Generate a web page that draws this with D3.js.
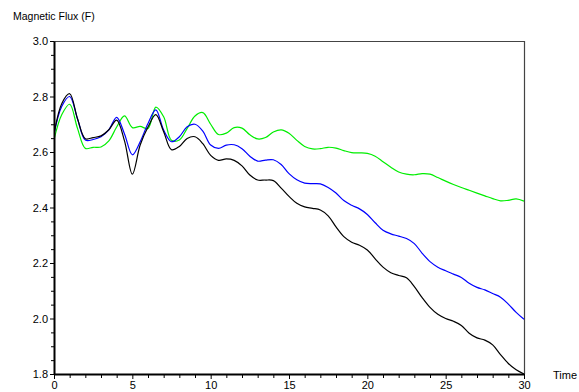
<!DOCTYPE html>
<html>
<head>
<meta charset="utf-8">
<script src="https://cdn.jsdelivr.net/npm/d3@7"></script>
<style>
  html, body { margin: 0; padding: 0; background: #fff; }
  svg { display: block; }
  text { font-family: "Liberation Sans", Arial, Helvetica, sans-serif; fill: #000; }
</style>
</head>
<body>
<svg id="chart" width="579" height="392"></svg>
<script>
// ---- data ----
const time = [0,0.5,1,1.5,2,2.5,3,3.5,4,4.5,5,5.5,6,6.5,7,7.5,8,8.5,9,9.5,
  10,10.5,11,11.5,12,12.5,13,13.5,14,14.5,15,15.5,16,16.5,17,17.5,18,18.5,19,19.5,
  20,20.5,21,21.5,22,22.5,23,23.5,24,24.5,25,25.5,26,26.5,27,27.5,28,28.5,29,29.5,30];

const fluxBlack = [2.665,2.775,2.81,2.72,2.648,2.652,2.658,2.68,2.715,2.64,2.52,2.625,2.69,2.735,2.673,2.608,2.62,2.649,2.655,2.63,
  2.588,2.57,2.575,2.57,2.55,2.517,2.499,2.499,2.497,2.47,2.44,2.415,2.402,2.397,2.391,2.37,2.33,2.295,2.275,2.264,
  2.247,2.215,2.185,2.165,2.155,2.147,2.115,2.075,2.04,2.015,2.0,1.99,1.975,1.947,1.93,1.922,1.905,1.87,1.838,1.815,1.80];

const fluxBlue = [2.665,2.765,2.80,2.72,2.643,2.645,2.655,2.68,2.725,2.665,2.59,2.637,2.703,2.752,2.679,2.637,2.655,2.691,2.70,2.675,
  2.625,2.613,2.625,2.626,2.612,2.585,2.567,2.571,2.572,2.555,2.522,2.50,2.488,2.486,2.485,2.472,2.452,2.425,2.408,2.395,
  2.375,2.345,2.318,2.305,2.297,2.288,2.27,2.235,2.205,2.185,2.172,2.16,2.148,2.127,2.112,2.103,2.09,2.077,2.052,2.022,1.997];

const fluxGreen = [2.645,2.735,2.772,2.685,2.613,2.617,2.618,2.64,2.69,2.73,2.688,2.692,2.685,2.762,2.727,2.642,2.643,2.685,2.73,2.742,
  2.70,2.663,2.668,2.688,2.686,2.662,2.647,2.652,2.672,2.68,2.668,2.642,2.62,2.611,2.612,2.617,2.614,2.605,2.598,2.597,
  2.595,2.585,2.565,2.545,2.528,2.52,2.518,2.522,2.52,2.508,2.495,2.483,2.472,2.462,2.452,2.442,2.432,2.424,2.426,2.431,2.423];

const xMajorTicks = [0,5,10,15,20,25,30];
const yMajorTicks = [1.8,2.0,2.2,2.4,2.6,2.8,3.0];
const xMinorTicks = [1,2,3,4,6,7,8,9,11,12,13,14,16,17,18,19,21,22,23,24,26,27,28,29];
const yMinorTicks = [1.85,1.9,1.95,2.05,2.1,2.15,2.25,2.3,2.35,2.45,2.5,2.55,2.65,2.7,2.75,2.85,2.9,2.95];

const yTitle = "Magnetic Flux (F)";
const xTitle = "Time";

// ---- chart ----
const svg = d3.select("#chart");
const mLeft = 54, mRight = 524, mTop = 41, mBottom = 374;

const x = d3.scaleLinear().domain([0, 30]).range([mLeft, mRight]);
const y = d3.scaleLinear().domain([1.8, 3.0]).range([mBottom, mTop]);

// frame (top & right)
svg.append("line").attr("x1", mLeft).attr("x2", mRight).attr("y1", mTop + 0.5).attr("y2", mTop + 0.5)
  .attr("stroke", "#444").attr("stroke-width", 1.2);
svg.append("line").attr("x1", mRight + 0.5).attr("x2", mRight + 0.5).attr("y1", mTop).attr("y2", mBottom)
  .attr("stroke", "#444").attr("stroke-width", 1.2);

// series
const series = [
  { values: fluxGreen, color: "#00ee00" },
  { values: fluxBlue, color: "#0000ff" },
  { values: fluxBlack, color: "#000000" }
];
const line = d3.line()
  .x((d, i) => x(time[i]))
  .y(d => y(d))
  .curve(d3.curveCatmullRom.alpha(0.5));

svg.append("clipPath").attr("id", "clip").append("rect")
  .attr("x", mLeft).attr("y", mTop).attr("width", mRight - mLeft + 1).attr("height", mBottom - mTop);

svg.append("g").attr("clip-path", "url(#clip)")
  .selectAll("path").data(series).join("path")
  .attr("d", d => line(d.values))
  .attr("fill", "none")
  .attr("stroke", d => d.color)
  .attr("stroke-width", 1.2);

// axes
const xAxis = d3.axisBottom(x).tickValues(xMajorTicks).tickSize(5).tickPadding(2).tickFormat(d3.format("d")).tickSizeOuter(0);
const xMinor = d3.axisBottom(x).tickValues(xMinorTicks).tickSize(4).tickFormat("");
const yAxis = d3.axisLeft(y).tickValues(yMajorTicks).tickSize(4).tickPadding(2).tickFormat(d3.format(".1f")).tickSizeOuter(0);
const yMinor = d3.axisLeft(y).tickValues(yMinorTicks).tickSize(3).tickFormat("");

function styleAxis(g) {
  g.selectAll("path.domain").attr("stroke", "#000").attr("stroke-width", 2);
  g.selectAll(".tick line").attr("stroke", "#000").attr("stroke-width", 1);
  g.selectAll("text").attr("font-size", 11).attr("font-family", "Liberation Sans, Arial, sans-serif").attr("fill", "#000");
}

svg.append("g").attr("transform", `translate(0,${mBottom})`).call(xMinor).call(styleAxis)
  .select("path.domain").remove();
svg.append("g").attr("transform", `translate(${mLeft},0)`).call(yMinor).call(styleAxis)
  .select("path.domain").remove();
svg.append("g").attr("transform", `translate(0,${mBottom})`).call(xAxis).call(styleAxis);
svg.append("g").attr("transform", `translate(${mLeft},0)`).call(yAxis).call(styleAxis);

// titles
svg.append("text").attr("x", 13).attr("y", 20).attr("font-size", 10.5).text(yTitle);
svg.append("text").attr("x", 553).attr("y", 379).attr("font-size", 11).text(xTitle);
</script>
</body>
</html>
